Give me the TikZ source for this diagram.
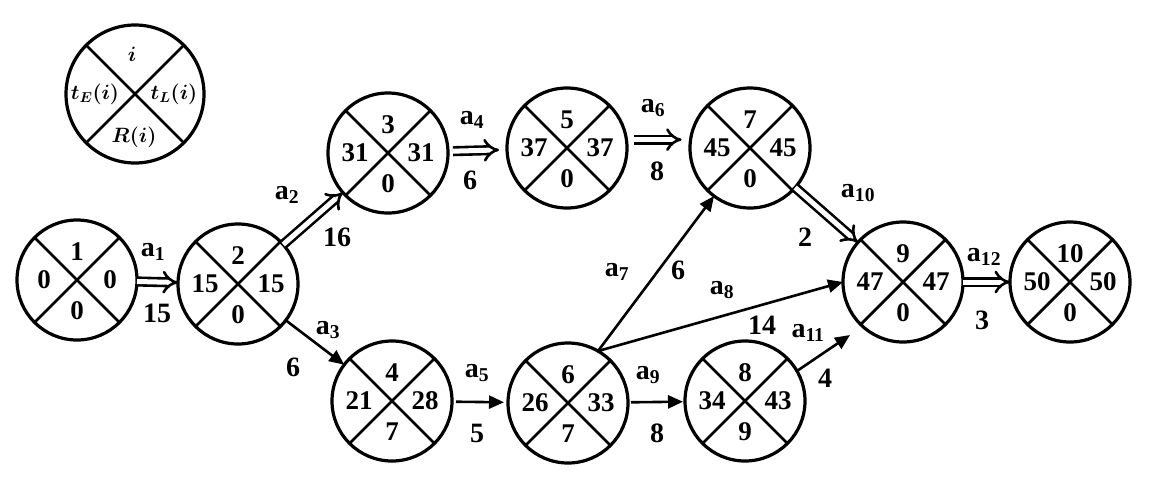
\documentclass[tikz,border=0pt]{standalone}
\usepackage{fontspec}
\setmainfont{Liberation Serif}
\usetikzlibrary{arrows.meta}
\tikzset{
  evt/.style={circle, draw, line width=3.2pt, minimum size=120pt, inner sep=0pt, outer sep=0pt},
  num/.style={font=\fontsize{27}{27}\selectfont\bfseries, inner sep=0pt},
  lbl/.style={font=\fontsize{28}{28}\selectfont\bfseries, inner sep=0pt},
  leglbl/.style={font=\fontsize{21}{21}\selectfont\boldmath, inner sep=0pt},
  crossline/.style={line width=2.8pt},
  crit/.style={double, double distance=5pt, line width=2.6pt, -{Implies}},
  norm/.style={line width=2.6pt, -{Triangle[length=15pt,width=13pt]}},
}
\newcommand\eventnode[7]{%
  \node[evt] (#1) at (#2,#3) {};
  \draw[crossline] (#1.45) -- (#1.225) (#1.135) -- (#1.315);
  \node[num] (#1-t) at ([yshift=28pt]#1.center) {#4};
  \node[num] (#1-l) at ([xshift=-33pt]#1.center) {#5};
  \node[num] (#1-r) at ([xshift=33pt]#1.center) {#6};
  \node[num] (#1-b) at ([yshift=-31pt]#1.center) {#7};
}
\begin{document}
\begin{tikzpicture}[x=1pt,y=-1pt]
\path[use as bounding box, fill=white] (0,0) rectangle (1174,490);

% legend
\node[evt, minimum size=138pt] (leg) at (135,94) {};
\draw[crossline] (leg.45) -- (leg.225) (leg.135) -- (leg.315);
\node[leglbl] (leg-t) at (132,54) {$i$};
\node[leglbl] (leg-l) at (95,94) {$t_E(i)$};
\node[leglbl] (leg-r) at (174,94) {$t_L(i)$};
\node[leglbl] (leg-b) at (134,137) {$R(i)$};

% events
\eventnode{n1}{77}{280}{1}{0}{0}{0}
\eventnode{n2}{238}{284}{2}{15}{15}{0}
\eventnode{n3}{388}{153}{3}{31}{31}{0}
\eventnode{n4}{392}{401}{4}{21}{28}{7}
\eventnode{n5}{567}{148}{5}{37}{37}{0}
\eventnode{n6}{568}{403}{6}{26}{33}{7}
\eventnode{n7}{750}{148}{7}{45}{45}{0}
\eventnode{n8}{745}{401}{8}{34}{43}{9}
\eventnode{n9}{903}{282}{9}{47}{47}{0}
\eventnode{n10}{1070}{282}{10}{50}{50}{0}

\coordinate (a11end) at (850,335);

% activities
\draw[crit] (n1) -- (n2);
\draw[crit] (n2) -- (n3);
\draw[norm] (n2) -- (n4);
\draw[crit, shorten <=5pt, shorten >=8pt] (n3) -- (n5);
\draw[norm, shorten <=4pt, shorten >=4pt] (n4) -- (n6);
\draw[crit, shorten <=8pt, shorten >=9pt] (n5.8) -- (n7.172);
\draw[norm] (n6.60) -- (n7);
\draw[norm] (n6.60) -- (n9.west);
\draw[norm, shorten <=3pt, shorten >=2pt] (n6) -- (n8);
\draw[crit] (n7) -- (n9);
\draw[norm] (n8.30) -- (a11end);
\draw[crit] (n9) -- (n10);

% labels
\node[lbl] (l1) at (153,252) {a\textsubscript{1}};
\node[lbl] (d1) at (157,313) {15};
\node[lbl] (l2) at (287,195) {a\textsubscript{2}};
\node[lbl] (d2) at (337,237) {16};
\node[lbl] (l3) at (328,330) {a\textsubscript{3}};
\node[lbl] (d3) at (293,367) {6};
\node[lbl] (l4) at (472,120) {a\textsubscript{4}};
\node[lbl] (d4) at (470,180) {6};
\node[lbl] (l5) at (477,373) {a\textsubscript{5}};
\node[lbl] (d5) at (477,433) {5};
\node[lbl] (l6) at (653,108) {a\textsubscript{6}};
\node[lbl] (d6) at (657,171) {8};
\node[lbl] (l7) at (617,272) {a\textsubscript{7}};
\node[lbl] (d7) at (678,270) {6};
\node[lbl] (l8) at (722,290) {a\textsubscript{8}};
\node[lbl] (d8) at (762,325) {14};
\node[lbl] (l9) at (648,375) {a\textsubscript{9}};
\node[lbl] (d9) at (657,433) {8};
\node[lbl] (l10) at (858,193) {a\textsubscript{10}};
\node[lbl] (d10) at (805,237) {2};
\node[lbl] (l11) at (808,333) {a\textsubscript{11}};
\node[lbl] (d11) at (825,378) {4};
\node[lbl] (l12) at (984,257) {a\textsubscript{12}};
\node[lbl] (d12) at (982,320) {3};
\end{tikzpicture}
\end{document}
